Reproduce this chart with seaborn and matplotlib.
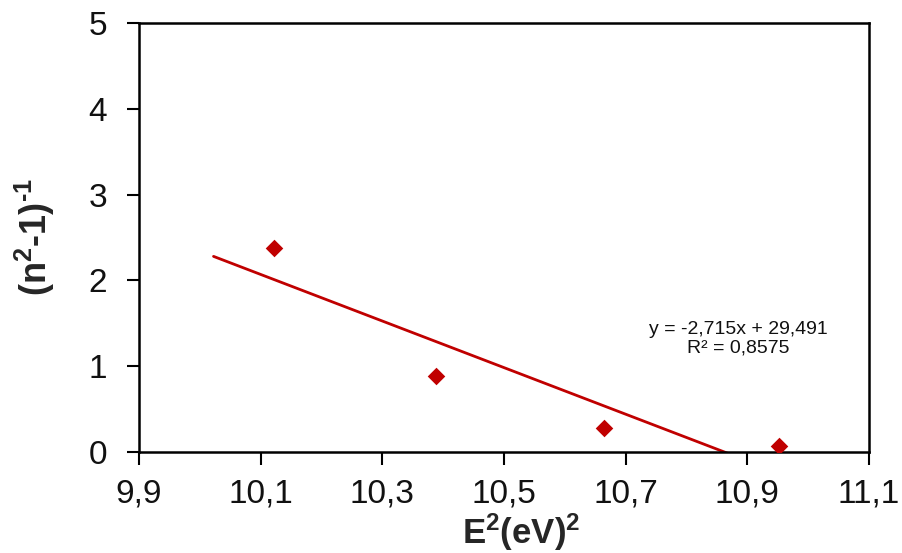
import matplotlib
matplotlib.use("Agg")
import matplotlib.pyplot as plt
import seaborn as sns
import numpy as np
import pandas as pd

# Data
energy_sq = [10.1225, 10.388, 10.665, 10.952]
inv_n = [2.38, 0.88, 0.28, 0.07]
slope = -2.715
intercept = 29.491
r_squared = 0.8575
x_ticks = [9.9, 10.1, 10.3, 10.5, 10.7, 10.9, 11.1]
x_tick_labels = ["9,9", "10,1", "10,3", "10,5", "10,7", "10,9", "11,1"]
y_ticks = [0, 1, 2, 3, 4, 5]

sns.set_theme(style="white")
plt.rcParams["font.family"] = ["Liberation Sans", "DejaVu Sans"]
plt.rcParams["mathtext.fontset"] = "custom"
plt.rcParams["mathtext.rm"] = "Liberation Sans:bold"
plt.rcParams["mathtext.it"] = "Liberation Sans:bold"
plt.rcParams["mathtext.bf"] = "Liberation Sans:bold"

color = "#C00000"

fig = plt.figure(figsize=(9.03, 5.53), dpi=100)
ax = fig.add_axes([139 / 903, 1 - 452 / 553, (869 - 139) / 903, (452 - 23) / 553])

df = pd.DataFrame({"x": energy_sq, "y": inv_n})

# Trendline (backward forecast 0.1), clipped at y=0 by the axis
tx = np.array([min(energy_sq) - 0.1, max(energy_sq)])
trend = pd.DataFrame({"x": tx, "y": slope * tx + intercept})
sns.lineplot(data=trend, x="x", y="y", ax=ax, color=color, linewidth=2.0, zorder=2)

sns.scatterplot(data=df, x="x", y="y", ax=ax, marker="D", s=80, color=color,
                edgecolor=color, linewidth=0, zorder=3)

ax.set_xlim(9.9, 11.1)
ax.set_ylim(0, 5)
ax.set_xticks(x_ticks)
ax.set_xticklabels(x_tick_labels)
ax.set_yticks(y_ticks)
ax.set_yticklabels([str(v) for v in y_ticks])

for sp in ax.spines.values():
    sp.set_visible(True)
    sp.set_color("black")
    sp.set_linewidth(1.8)

ax.tick_params(axis="both", which="major", direction="out", length=9, width=1.5,
               color="black", labelsize=24, labelcolor="#111111")
ax.tick_params(axis="x", pad=10, bottom=True)
ax.tick_params(axis="y", pad=14, left=True)

ax.set_xlabel(r"E$^{2}$(eV)$^{2}$", fontsize=25, fontweight="bold")
ax.xaxis.label.set_va("baseline")
ax.xaxis.set_label_coords(0.5235, -0.215)
ax.set_ylabel(r"(n$^{2}$-1)$^{\text{-}1}$", fontsize=26, fontweight="bold")
ax.yaxis.label.set_va("center")
ax.yaxis.set_label_coords(-0.143, 0.5)

eq = "y = -2,715x + 29,491\nR² = 0,8575"
ax.text(10.885, 1.32, eq, fontsize=14, ha="center", va="center",
        color="#111111", linespacing=1.15)

fig.savefig("out.png", dpi=100)
